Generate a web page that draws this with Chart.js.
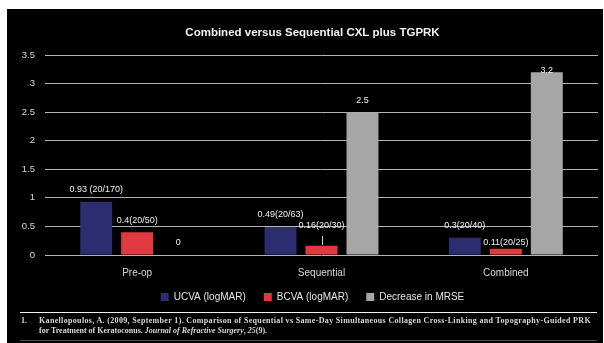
<!DOCTYPE html>
<html>
<head>
<meta charset="utf-8">
<script src="https://cdn.jsdelivr.net/npm/chart.js@4.4.1/dist/chart.umd.min.js"></script>
<style>
  html, body { margin: 0; padding: 0; background: #fff; width: 604px; height: 343px; overflow: hidden; }
  #panel { position: absolute; left: 7px; top: 9px; width: 596px; height: 334px; background: #000; }
  #wrap { position: absolute; left: 0; top: 0; width: 596px; height: 334px; }
  .rule { position: absolute; left: 13px; width: 577px; height: 1px; }
  #ruleTop { top: 303px; background: #f2f2f2; }
  #ruleBottom { top: 331px; background: #4a4a4a; }
  .note { position: absolute; font-family: "Liberation Serif", "Times New Roman", serif; font-weight: bold;
          font-size: 8px; line-height: 9px; color: #d9d9d9; white-space: nowrap; }
  #num { left: 14px; top: 307px; }
  #line1 { left: 32px; top: 307px; }
  #line2 { left: 32px; top: 317px; }
</style>
</head>
<body>
<div id="panel">
  <div id="wrap"><canvas id="chart"></canvas></div>
  <div class="rule" id="ruleTop"></div>
  <div class="note" id="num">1.</div>
  <div class="note" id="line1">Kanellopoulos, A. (2009, September 1). Comparison of Sequential vs Same-Day Simultaneous Collagen Cross-Linking and Topography-Guided PRK</div>
  <div class="note" id="line2">for Treatment of Keratoconus. <i>Journal of Refractive Surgery</i>, <i>25</i>(9).</div>
  <div class="rule" id="ruleBottom"></div>
</div>
<script>
// Outcome groups and measured values
const categories = ["Pre-op", "Sequential", "Combined"];
const ucvaValues = [0.93, 0.49, 0.3];
const bcvaValues = [0.4, 0.16, 0.11];
const mrseValues = [0, 2.5, 3.2];
const ucvaLabels = ["0.93 (20/170)", "0.49(20/63)", "0.3(20/40)"];
const bcvaLabels = ["0.4(20/50)", "0.16(20/30)", "0.11(20/25)"];
const mrseLabels = ["0", "2.5", "3.2"];
const seriesNames = ["UCVA (logMAR)", "BCVA (logMAR)", "Decrease in MRSE"];

// Stretch the first reference line across the rule width
(function fitNote() {
  const el = document.getElementById('line1');
  const target = 552;
  const w = el.getBoundingClientRect().width;
  const n = el.textContent.length;
  el.style.letterSpacing = ((target - w) / n) + 'px';
})();

const sans = '"Liberation Sans", Arial, sans-serif';

// Value captions above bars; a few are nudged to avoid overlaps
const captionPlugin = {
  id: 'captions',
  afterDatasetsDraw(chart) {
    const ctx = chart.ctx;
    const texts = [ucvaLabels, bcvaLabels, mrseLabels];
    const lift = { '1-1': 20, '1-2': 6, '2-2': 2 };
    ctx.save();
    ctx.font = '9px ' + sans;
    ctx.fillStyle = '#f0f0f0';
    ctx.textAlign = 'center';
    ctx.textBaseline = 'middle';
    chart.data.datasets.forEach((ds, d) => {
      const meta = chart.getDatasetMeta(d);
      meta.data.forEach((bar, i) => {
        const key = d + '-' + i;
        const off = lift[key] !== undefined ? lift[key] : 12;
        ctx.fillText(texts[d][i], bar.x, bar.y - off);
        if (key === '1-1') {
          ctx.strokeStyle = '#d0d0d0';
          ctx.lineWidth = 1;
          ctx.beginPath();
          ctx.moveTo(Math.round(bar.x) + 0.5, bar.y - 10);
          ctx.lineTo(Math.round(bar.x) + 0.5, bar.y - 1);
          ctx.stroke();
        }
      });
    });
    ctx.restore();
  }
};

// Let tick labels spill outside their (narrow) axis boxes
function noLabelClip(scale) { scale._computeLabelArea = () => undefined; }

new Chart(document.getElementById('chart'), {
  type: 'bar',
  data: {
    labels: categories,
    datasets: [
      { label: seriesNames[0], data: ucvaValues, backgroundColor: '#2b2d6e' },
      { label: seriesNames[1], data: bcvaValues, backgroundColor: '#e03a40' },
      { label: seriesNames[2], data: mrseValues, backgroundColor: '#a6a6a6' }
    ]
  },
  options: {
    responsive: true,
    maintainAspectRatio: false,
    animation: false,
    categoryPercentage: 0.667,
    barPercentage: 0.78,
    layout: { padding: { top: 0, left: 20, right: 5, bottom: 31 } },
    plugins: {
      title: {
        display: true,
        text: 'Combined versus Sequential CXL plus TGPRK',
        color: '#f2f2f2',
        font: { family: sans, size: 11.5, weight: 'bold', lineHeight: 1.2 },
        padding: { top: 16.6, bottom: 15.6 }
      },
      legend: {
        position: 'bottom',
        labels: {
          color: '#e6e6e6',
          boxWidth: 8,
          boxHeight: 8,
          padding: 18,
          font: { family: sans, size: 10 }
        }
      },
      tooltip: { enabled: false }
    },
    scales: {
      x: {
        grid: { display: false, drawTicks: false },
        border: { display: false },
        ticks: { color: '#d9d9d9', padding: 12, font: { family: sans, size: 10 } },
        afterFit(scale) { scale.height = 19; noLabelClip(scale); }
      },
      y: {
        min: 0,
        max: 3.5,
        ticks: {
          stepSize: 0.5,
          color: '#d9d9d9',
          padding: 10,
          font: { family: sans, size: 9.5 },
          callback: (v) => String(v)
        },
        grid: { color: '#b5b5b5', lineWidth: 1, drawTicks: false },
        border: { display: false },
        afterFit(scale) { scale.width = 18; noLabelClip(scale); }
      }
    }
  },
  plugins: [captionPlugin]
});
</script>
</body>
</html>
